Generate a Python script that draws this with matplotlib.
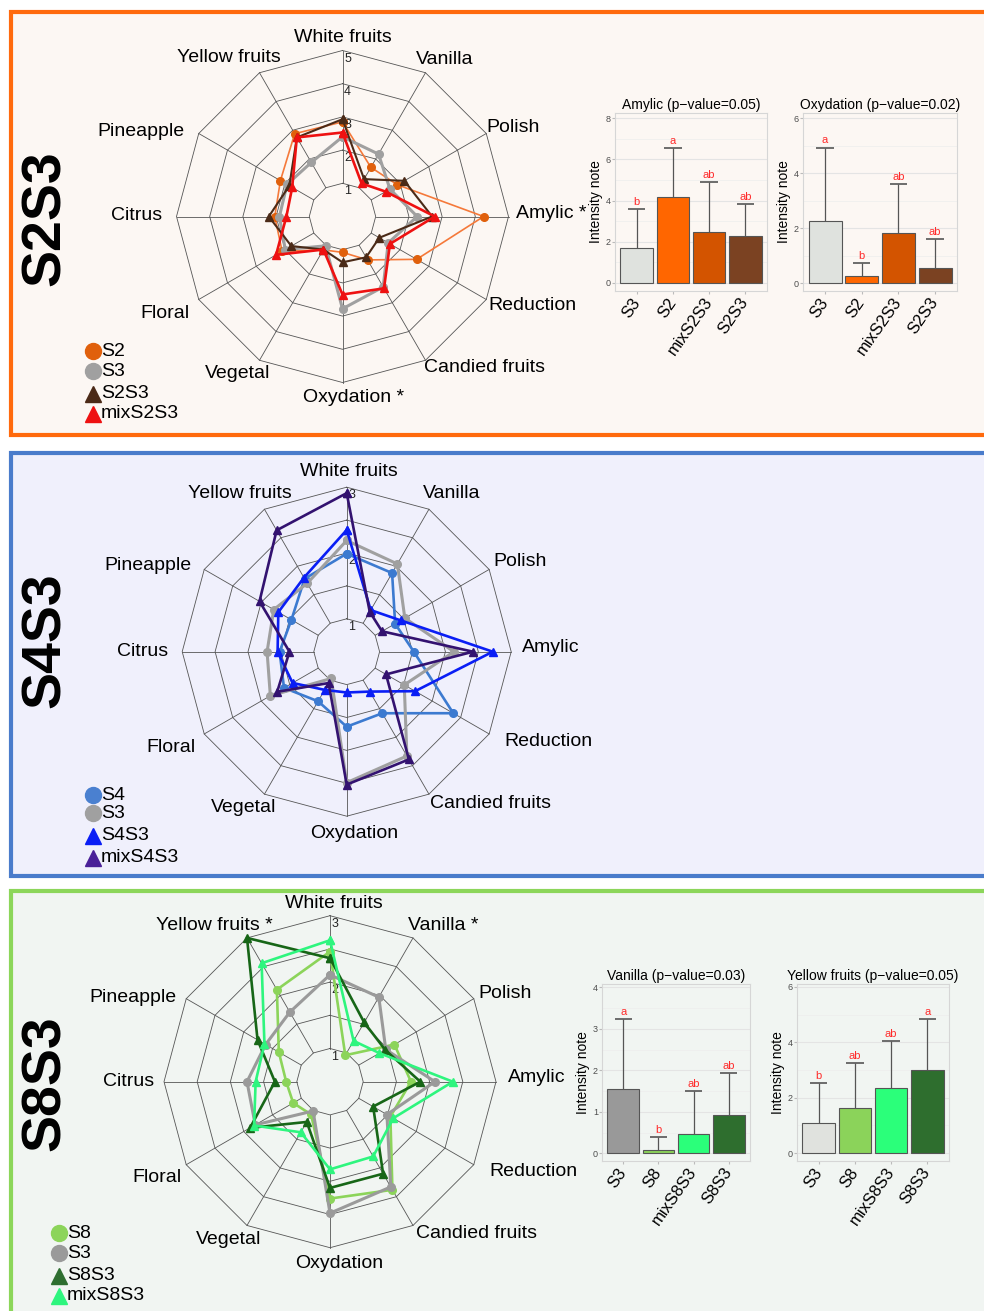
import numpy as np
import matplotlib
matplotlib.use('Agg')
import matplotlib.pyplot as plt
from matplotlib.patches import Rectangle
from matplotlib.transforms import offset_copy

plt.rcParams['font.family'] = ['Liberation Sans', 'DejaVu Sans']

W, H = 984, 1311

attributes = ['White fruits', 'Vanilla', 'Polish', 'Amylic', 'Reduction', 'Candied fruits',
              'Oxydation', 'Vegetal', 'Floral', 'Citrus', 'Pineapple', 'Yellow fruits']

# sensory profiles (mean intensity per attribute, same order as above)
s2 = [2.85, 1.71, 1.91, 4.25, 2.58, 1.51, 1.08, 1.16, 2.10, 2.04, 2.16, 2.88]
s3_a = [2.40, 2.17, 1.65, 2.25, 1.59, 2.45, 2.78, 1.02, 1.99, 1.90, 1.93, 1.88]
s2s3 = [2.93, 1.30, 2.15, 2.70, 1.28, 1.42, 1.38, 1.15, 1.78, 2.22, 1.85, 2.75]
mix_s2s3 = [2.53, 1.15, 1.50, 2.78, 1.65, 2.50, 2.35, 1.15, 2.31, 1.69, 1.75, 2.75]

s4 = [1.99, 1.88, 1.35, 1.52, 2.37, 1.58, 1.64, 1.37, 1.60, 1.52, 1.47, 1.78]
s3_b = [2.19, 2.04, 1.52, 2.13, 1.51, 2.33, 2.49, 0.97, 1.84, 1.71, 1.78, 1.70]
s4s3 = [2.35, 1.23, 1.45, 2.72, 1.70, 1.20, 1.12, 1.17, 1.45, 1.55, 1.70, 1.80]
mix_s4s3 = [2.91, 1.20, 1.12, 2.42, 1.19, 2.39, 2.52, 1.05, 1.72, 1.37, 2.03, 2.63]

s8 = [2.46, 0.96, 1.62, 1.72, 1.55, 2.38, 2.26, 1.07, 1.14, 1.16, 1.39, 2.10]
s3_c = [2.11, 1.97, 1.47, 2.08, 1.49, 2.33, 2.48, 1.01, 1.80, 1.75, 1.62, 1.71]
s8s3 = [2.36, 1.53, 1.46, 1.86, 1.25, 2.10, 2.10, 1.20, 1.89, 1.33, 1.76, 3.00]
mix_s8s3 = [2.63, 1.21, 1.36, 2.35, 1.60, 1.80, 1.82, 1.38, 1.82, 1.62, 1.64, 2.56]

# bar charts: mean, sd and letter groups
groups_s2 = ['S3', 'S2', 'mixS2S3', 'S2S3']
amylic_mean = [1.70, 4.17, 2.45, 2.27]
amylic_sd = [1.87, 2.37, 2.44, 1.56]
amylic_let = ['b', 'a', 'ab', 'ab']
oxy_mean = [2.27, 0.26, 1.83, 0.54]
oxy_sd = [2.67, 0.48, 1.77, 1.05]
oxy_let = ['a', 'b', 'ab', 'ab']

groups_s8 = ['S3', 'S8', 'mixS8S3', 'S8S3']
vanilla_mean = [1.54, 0.09, 0.46, 0.92]
vanilla_sd = [1.70, 0.30, 1.03, 1.02]
vanilla_let = ['a', 'b', 'ab', 'ab']
yellow_mean = [1.08, 1.62, 2.36, 2.99]
yellow_sd = [1.44, 1.64, 1.70, 1.85]
yellow_let = ['b', 'ab', 'ab', 'a']

fig = plt.figure(figsize=(W / 100, H / 100), dpi=100)
bg = fig.add_axes([0, 0, 1, 1])
bg.set_xlim(0, W)
bg.set_ylim(H, 0)
bg.axis('off')


def box(x0, y0, x1, y1, **kw):
    return fig.add_axes([x0 / W, 1 - y1 / H, (x1 - x0) / W, (y1 - y0) / H], **kw)


# panel frames
for top, bottom, edge, face in [(12, 435, '#FF6A0D', '#FCF7F3'),
                                (453, 876, '#4A7CCB', '#F0F0FC'),
                                (891, 1340, '#8CD65A', '#F1F5F2')]:
    bg.add_patch(Rectangle((11, top), 1000, bottom - top, facecolor=face,
                           edgecolor=edge, lw=3, zorder=0))

theta = np.deg2rad(np.arange(12) * 30)
closed = np.append(theta, theta[0])


def radar(cx, cy, R, rmin, rmax, ticks, series, label_xy):
    ax = box(cx - R, cy - R, cx + R, cy + R, projection='polar')
    ax.set_theta_zero_location('N')
    ax.set_theta_direction(-1)
    ax.set_ylim(rmin, rmax)
    ax.axis('off')
    levels = np.linspace(rmin + (rmax - rmin) / 5, rmax, 5)
    for lv in levels:
        ax.plot(closed, np.full(13, lv), color='#555555', lw=0.6, clip_on=False, zorder=1)
    for t in theta:
        ax.plot([t, t], [levels[0], rmax], color='#555555', lw=0.6, clip_on=False, zorder=1)
    tr = offset_copy(ax.transData, fig=fig, x=5, y=-8, units='dots')
    for lv, txt in ticks:
        ax.text(0, lv, txt, transform=tr, ha='center', va='center', fontsize=9, color='#222222')
    for vals, mcol, lcol, mk, lw, ms in series:
        v = np.append(vals, vals[0])
        ax.plot(closed, v, color=lcol, lw=lw, marker=mk, ms=ms, mfc=mcol, mec=mcol,
                clip_on=False, zorder=3)
    for (x, y), name in zip(label_xy, names):
        bg.text(x, y, name, ha='center', va='center', fontsize=14)


def legend(x, ys, items):
    for y, (txt, mk, col) in zip(ys, items):
        bg.plot(x, y, marker=mk, ms=11.5, color=col, ls='none')
        bg.text(x + 8, y, txt, ha='left', va='center', fontsize=14)


def bars(x0, y0, x1, y1, title, groups, means, sds, letters, colors, ylim, yticks):
    ax = box(x0, y0, x1, y1)
    ax.set_facecolor('none')
    pos = np.arange(1, len(groups) + 1)
    means = np.array(means)
    tops = means + np.array(sds)
    ax.bar(pos, means, width=0.9, color=colors, edgecolor='#555555', lw=0.8, zorder=2)
    ax.vlines(pos, means, tops, color='#555555', lw=0.9, zorder=3)
    ax.hlines(tops, pos - 0.24, pos + 0.24, color='#555555', lw=1.2, zorder=3)
    for p, t, l in zip(pos, tops, letters):
        ax.annotate(l, (p, t), xytext=(0, 1.5), textcoords='offset points',
                    ha='center', va='bottom', color='#FF2A2A', fontsize=8)
    ax.set_xlim(0.4, 4.6)
    ax.set_ylim(*ylim)
    ax.set_yticks(yticks)
    ax.set_yticks(np.array(yticks[:-1]) + (yticks[1] - yticks[0]) / 2, minor=True)
    ax.grid(axis='y', which='major', color='#E4E4E4', lw=0.8)
    ax.grid(axis='y', which='minor', color='#EDEDED', lw=0.5)
    ax.set_axisbelow(True)
    ax.set_xticks(pos, groups, rotation=55, ha='right', va='center', rotation_mode='anchor', fontsize=12)
    ax.tick_params(axis='y', labelsize=6.5, labelcolor='#4d4d4d', length=2, color='#bbbbbb', pad=1)
    ax.tick_params(axis='x', length=2, color='#bbbbbb', pad=4)
    ax.tick_params(which='minor', length=0)
    for s in ax.spines.values():
        s.set_color('#D6D6D6')
        s.set_linewidth(0.8)
    ax.set_ylabel('Intensity note', fontsize=10, labelpad=2)
    ax.set_title(title, fontsize=10, pad=3)


# ---- S2S3 ----
names = ['White fruits', 'Vanilla', 'Polish', 'Amylic *', 'Reduction', 'Candied fruits',
         'Oxydation *', 'Vegetal', 'Floral', 'Citrus', 'Pineapple', 'Yellow fruits']
radar(342.5, 216.5, 166, 0, 5, [(1, '1'), (2, '2'), (3, '3'), (4, '4'), (5, '5')],
      [(s2, '#E0600C', '#F5793A', 'o', 1.2, 5.5),
       (s3_a, '#A0A0A0', '#A0A0A0', 'o', 2.2, 5.5),
       (s2s3, '#4B2A17', '#4B2A17', '^', 1.5, 5.5),
       (mix_s2s3, '#EE1111', '#EE1111', '^', 1.9, 5.5)],
      [(343, 38), (445, 60), (513, 127), (551, 213), (532, 306), (484, 368),
       (354, 398), (238, 374), (165, 313), (137, 216), (141, 132), (229, 58)])
legend(93, [351, 371, 394, 414], [('S2', 'o', '#E0600C'), ('S3', 'o', '#A0A0A0'),
                                  ('S2S3', '^', '#4B2A17'), ('mixS2S3', '^', '#EE1111')])
bars(615, 113, 767, 291, 'Amylic (p\u2212value=0.05)', groups_s2, amylic_mean, amylic_sd,
     amylic_let, ['#DFE2DE', '#FF6600', '#D35400', '#7B4222'], (-0.39, 8.25), [0, 2, 4, 6, 8])
bars(803, 113, 957, 291, 'Oxydation (p\u2212value=0.02)', groups_s2, oxy_mean, oxy_sd,
     oxy_let, ['#DFE2DE', '#FF6600', '#D35400', '#7B4222'], (-0.29, 6.2), [0, 2, 4, 6])

# ---- S4S3 ----
names = list(attributes)
radar(346.7, 651.7, 164.5, 0.5, 3, [(1, '1'), (2, '2'), (3, '3')],
      [(s4, '#3C7AD0', '#3C7AD0', 'o', 1.9, 5.5),
       (s3_b, '#A0A0A0', '#A0A0A0', 'o', 2.2, 5.5),
       (s4s3, '#0A1EF5', '#0A1EF5', '^', 1.9, 5.5),
       (mix_s4s3, '#331270', '#331270', '^', 1.9, 5.5)],
      [(349, 472), (452, 494), (520, 561), (551, 648), (548, 741), (490, 803),
       (354, 833), (244, 808), (171, 747), (143, 651), (148, 566), (240, 494)])
legend(93, [795, 813, 836, 858], [('S4', 'o', '#4A80D0'), ('S3', 'o', '#A0A0A0'),
                                  ('S4S3', '^', '#0A1EF5'), ('mixS4S3', '^', '#4A2098')])

# ---- S8S3 ----
names = ['White fruits', 'Vanilla *', 'Polish', 'Amylic', 'Reduction', 'Candied fruits',
         'Oxydation', 'Vegetal', 'Floral', 'Citrus', 'Pineapple', 'Yellow fruits *']
radar(330, 1081.7, 166, 0.5, 3, [(1, '1'), (2, '2'), (3, '3')],
      [(s8, '#8CD45A', '#8CD45A', 'o', 1.9, 5.5),
       (s3_c, '#9A9A9A', '#9A9A9A', 'o', 2.2, 5.5),
       (s8s3, '#176617', '#176617', '^', 1.9, 5.5),
       (mix_s8s3, '#2EF57E', '#2EF57E', '^', 1.9, 5.5)],
      [(334, 903), (443, 925), (505, 993), (537, 1078), (533, 1172), (476, 1234),
       (339, 1264), (229, 1240), (157, 1178), (129, 1082), (133, 997), (214, 925)])
legend(59, [1233, 1253, 1276, 1296], [('S8', 'o', '#8CD45A'), ('S3', 'o', '#9A9A9A'),
                                      ('S8S3', '^', '#2E6E30'), ('mixS8S3', '^', '#2EF57E')])
bars(602, 984, 750, 1161, 'Vanilla (p\u2212value=0.03)', groups_s8, vanilla_mean, vanilla_sd,
     vanilla_let, ['#999999', '#8BD35A', '#2BFF7A', '#2E6E2E'], (-0.185, 4.08), [0, 1, 2, 3, 4])
bars(797, 984, 949, 1161, 'Yellow fruits (p\u2212value=0.05)', groups_s8, yellow_mean, yellow_sd,
     yellow_let, ['#E0E2DE', '#8BD35A', '#2BFF7A', '#2E6E2E'], (-0.28, 6.1), [0, 2, 4, 6])

# group names
for y, txt in [(218, 'S2S3'), (640, 'S4S3'), (1083, 'S8S3')]:
    bg.text(46, y, txt, rotation=90, ha='center', va='center', fontsize=40,
            fontweight='bold')

fig.savefig('out.png', dpi=100)
